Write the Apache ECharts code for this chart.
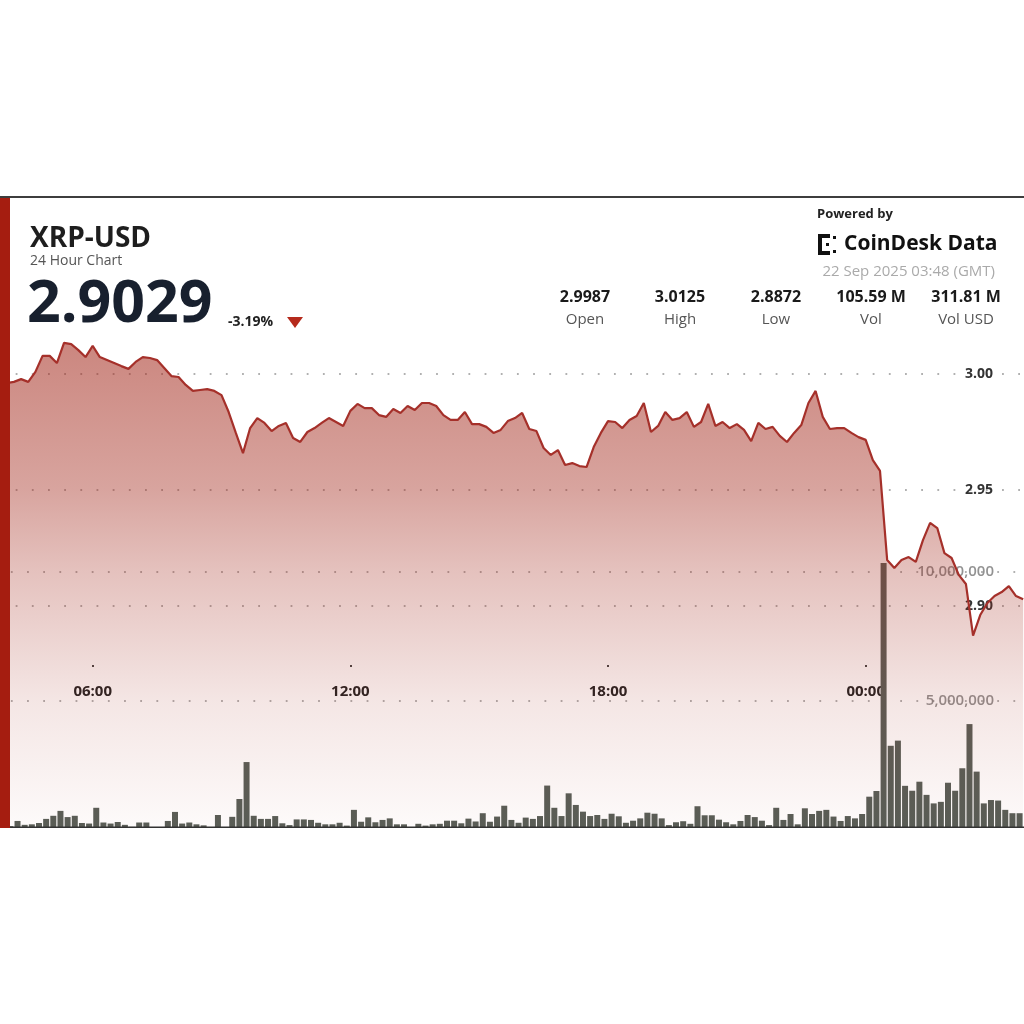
<!doctype html>
<html lang="en">
  <head>
    <meta charset="UTF-8" />
    <title>XRP-USD 24 Hour Chart</title>
    <script src="https://cdn.jsdelivr.net/npm/echarts@6/dist/echarts.min.js"></script>
    <style>
      body {
        margin: 0;
        padding: 0;
        background: #fff;
      }
      .main {
        width: 1024px;
        height: 1024px;
      }
    </style>
  </head>
  <body>
    <div class="main"></div>
    <script>
      // 10 minute buckets, starting 21 Sep 2025 04:00 GMT
      const startTime = Date.UTC(2025, 8, 21, 4, 0);
      const step = 10 * 60 * 1000;

      // price at each bucket (04:00 ... 03:40)
      const prices = [
        2.9961, 2.9966, 2.9978, 2.9966, 3.0009, 3.0078, 3.0078, 3.0047, 3.0134, 3.0129,
        3.0103, 3.0073, 3.0121, 3.0073, 3.006, 3.0047, 3.0034, 3.0022, 3.0052, 3.0073,
        3.0069, 3.006, 3.0026, 2.9991, 2.9987, 2.9953, 2.9927, 2.9931, 2.9935, 2.9927,
        2.9909, 2.9836, 2.9746, 2.9659, 2.9767, 2.981, 2.9789, 2.9754, 2.9776, 2.9789,
        2.9724, 2.9707, 2.975, 2.9767, 2.9789, 2.981, 2.9793, 2.9776, 2.9841, 2.9871,
        2.9853, 2.9853, 2.9823, 2.9815, 2.9849, 2.9832, 2.9862, 2.9845, 2.9875, 2.9875,
        2.9862, 2.9823, 2.9802, 2.9802, 2.9836, 2.9784, 2.9784, 2.9772, 2.9746, 2.9759,
        2.9797, 2.981, 2.9832, 2.9763, 2.9754, 2.9681, 2.9651, 2.9672, 2.9608, 2.9616,
        2.9603, 2.9599, 2.9685, 2.9746, 2.9797, 2.9793, 2.9767, 2.9802, 2.9819, 2.9875,
        2.975, 2.9776, 2.9836, 2.9802, 2.981, 2.9836, 2.9772, 2.9793, 2.9871, 2.9776,
        2.9793, 2.9767, 2.9784, 2.9759, 2.9711, 2.9789, 2.9763, 2.9772, 2.9733, 2.9707,
        2.9746, 2.978, 2.9875, 2.9927, 2.9815, 2.9763, 2.9767, 2.9767, 2.9746, 2.9728,
        2.9716, 2.9629, 2.9582, 2.9198, 2.9164, 2.9198, 2.9211, 2.919, 2.9284, 2.9358,
        2.9336, 2.9228, 2.9207, 2.9134, 2.9095, 2.8872, 2.8961, 2.9013, 2.9043, 2.906,
        2.9086, 2.9043, 2.9029,
      ];

      // volume per bucket, millions XRP
      const volumes = [
        0.15, 0.35, 0.2, 0.22, 0.27, 0.43, 0.55, 0.74, 0.5, 0.55,
        0.27, 0.25, 0.86, 0.29, 0.25, 0.31, 0.2, 0.12, 0.29, 0.29,
        0.05, 0.05, 0.35, 0.7, 0.25, 0.29, 0.22, 0.18, 0.05, 0.58,
        0.05, 0.51, 1.2, 2.63, 0.55, 0.43, 0.43, 0.54, 0.26, 0.19,
        0.41, 0.41, 0.39, 0.28, 0.22, 0.22, 0.28, 0.17, 0.78, 0.32,
        0.49, 0.3, 0.39, 0.45, 0.22, 0.22, 0.05, 0.24, 0.17, 0.22,
        0.24, 0.36, 0.36, 0.26, 0.44, 0.33, 0.65, 0.32, 0.52, 0.94,
        0.39, 0.28, 0.48, 0.43, 0.54, 1.72, 0.86, 0.54, 1.42, 0.97,
        0.71, 0.54, 0.58, 0.43, 0.63, 0.53, 0.28, 0.36, 0.45, 0.67,
        0.63, 0.45, 0.19, 0.3, 0.34, 0.24, 0.92, 0.57, 0.57, 0.4,
        0.3, 0.22, 0.35, 0.58, 0.5, 0.36, 0.19, 0.86, 0.39, 0.62,
        0.22, 0.84, 0.62, 0.74, 0.78, 0.52, 0.35, 0.54, 0.45, 0.62,
        1.29, 1.51, 10.34, 3.26, 3.46, 1.71, 1.52, 1.87, 1.36, 1.03,
        1.09, 1.83, 1.52, 2.39, 4.1, 2.26, 1.03, 1.16, 1.14, 0.78,
        0.65, 0.65,
      ];

      const timeTicks = [
        Date.UTC(2025, 8, 21, 6, 0),
        Date.UTC(2025, 8, 21, 12, 0),
        Date.UTC(2025, 8, 21, 18, 0),
        Date.UTC(2025, 8, 22, 0, 0),
      ];
      const priceTicks = [2.9, 3.0];
      const volumeTicks = [0, 12000000];

      const statValues = ["2.9987", "3.0125", "2.8872", "105.59 M", "311.81 M"];
      const statLabels = ["Open", "High", "Low", "Vol", "Vol USD"];
      const statX = [585, 680, 776, 871, 966];

      const pair = "XRP-USD";
      const lastPrice = "2.9029";
      const change = "-3.19%";
      const stamp = "22 Sep 2025 03:48 (GMT)";

      const font = "'Open Sans', 'Noto Sans', sans-serif";
      const tMin = startTime + 4.5 * 60 * 1000;
      const tMax = Date.UTC(2025, 8, 22, 3, 41, 10);

      const pad = (n) => String(n).padStart(2, "0");
      const fmtTime = (v) => {
        const d = new Date(v);
        return pad(d.getUTCHours()) + ":" + pad(d.getUTCMinutes());
      };

      const priceData = prices.map((p, i) => [startTime + i * step, p]);
      const volumeData = volumes.map((v, i) => [startTime + i * step + step / 2, v * 1e6]);

      const dotted = (offset) => ({
        color: "#b0b0b0",
        width: 1.8,
        type: [1.8, 14.37],
        dashOffset: offset,
      });

      // header texts
      const header = [
        { type: "text", style: { x: 30, y: 239, text: pair, fontSize: 28, fontWeight: "bold", fontFamily: font, fill: "#1e1e1e", textVerticalAlign: "middle" } },
        { type: "text", style: { x: 30, y: 261, text: "24 Hour Chart", fontSize: 14, fontFamily: font, fill: "#555", textVerticalAlign: "middle" } },
        { type: "text", style: { x: 27, y: 305, text: lastPrice, fontSize: 59, fontWeight: "bold", fontFamily: font, fill: "#18202e", textVerticalAlign: "middle" } },
        { type: "text", style: { x: 228, y: 322, text: change, fontSize: 14, fontWeight: "bold", fontFamily: font, fill: "#222", textVerticalAlign: "middle" } },
        { type: "polygon", shape: { points: [[287, 317], [303, 317], [295, 328]] }, style: { fill: "#b52a1c" } },
        { type: "text", style: { x: 817, y: 214, text: "Powered by", fontSize: 13, fontWeight: "bold", fontFamily: font, fill: "#222", textVerticalAlign: "middle" } },
        { type: "text", style: { x: 844, y: 244, text: "CoinDesk Data", fontSize: 21, fontWeight: "bold", fontFamily: font, fill: "#111", textVerticalAlign: "middle" } },
        { type: "text", style: { x: 995, y: 272, text: stamp, fontSize: 15, fontFamily: font, fill: "#aaa", textAlign: "right", textVerticalAlign: "middle" } },
        // logo mark
        { type: "rect", shape: { x: 818, y: 234, width: 4, height: 21 }, style: { fill: "#111" } },
        { type: "rect", shape: { x: 818, y: 234, width: 12, height: 4 }, style: { fill: "#111" } },
        { type: "rect", shape: { x: 818, y: 251, width: 12, height: 4 }, style: { fill: "#111" } },
        { type: "rect", shape: { x: 833, y: 236, width: 3, height: 3 }, style: { fill: "#111" } },
        { type: "rect", shape: { x: 833, y: 250, width: 3, height: 3 }, style: { fill: "#111" } },
        { type: "rect", shape: { x: 826, y: 243, width: 3, height: 3 }, style: { fill: "#111" } },
        // frame
        { type: "rect", shape: { x: 0, y: 196, width: 1024, height: 2 }, style: { fill: "#3d3d3d" } },
        { type: "rect", z: 100, shape: { x: 0, y: 828, width: 1024, height: 196 }, style: { fill: "#fff" } },
        { type: "rect", z: 100, shape: { x: 10, y: 826.5, width: 1014, height: 1.5 }, style: { fill: "#333" } },
        { type: "rect", z: 100, shape: { x: 0, y: 198, width: 10, height: 630 }, style: { fill: "#a51d10" } },
      ];

      statValues.forEach((v, i) => {
        header.push({ type: "text", style: { x: statX[i], y: 297, text: v, fontSize: 16, fontWeight: "bold", fontFamily: font, fill: "#1a1a1a", textAlign: "center", textVerticalAlign: "middle" } });
        header.push({ type: "text", style: { x: statX[i], y: 320, text: statLabels[i], fontSize: 15, fontFamily: font, fill: "#555", textAlign: "center", textVerticalAlign: "middle" } });
      });

      const myChart = echarts.init(document.querySelector(".main"));

      const option = {
        animation: false,
        backgroundColor: "#fff",
        graphic: header,
        grid: [
          { left: 10, right: 0, top: 198, bottom: 196 }, // price
          { left: 10, right: 0, top: 520, bottom: 194 }, // volume
          { left: 10, right: 0, top: 374, bottom: 418 }, // price ticks 3.00 .. 2.90
          { left: 10, right: 0, top: 600, bottom: 359 }, // time labels
        ],
        xAxis: [
          { type: "value", gridIndex: 0, min: tMin, max: tMax, show: false },
          { type: "value", gridIndex: 1, min: tMin, max: tMax, show: false },
          { type: "value", gridIndex: 2, show: false },
          {
            type: "value",
            gridIndex: 3,
            min: tMin,
            max: tMax,
            axisLine: { show: false },
            splitLine: { show: false },
            axisTick: { show: true, customValues: timeTicks, length: 2, lineStyle: { color: "#444", width: 2 } },
            axisLabel: {
              customValues: timeTicks,
              formatter: fmtTime,
              margin: 19,
              fontSize: 15,
              fontWeight: "bold",
              fontFamily: font,
              color: "#222",
            },
          },
        ],
        yAxis: [
          { type: "value", gridIndex: 0, min: 2.80431, max: 3.07586, show: false },
          {
            type: "value",
            gridIndex: 1,
            min: volumeTicks[0],
            max: volumeTicks[1],
            interval: 5000000,
            position: "right",
            axisLine: { show: false },
            axisTick: { show: false },
            axisLabel: {
              inside: true,
              margin: 30,
              showMinLabel: false,
              showMaxLabel: false,
              formatter: (v) => v.toLocaleString("en-US"),
              fontSize: 15,
              fontWeight: 600,
              fontFamily: font,
              color: "rgba(110,110,110,0.75)",
            },
            splitLine: { show: true, showMinLine: false, showMaxLine: false, lineStyle: dotted(15.3) },
          },
          {
            type: "value",
            gridIndex: 2,
            min: priceTicks[0],
            max: priceTicks[1],
            interval: 0.05,
            position: "right",
            axisLine: { show: false },
            axisTick: { show: false },
            axisLabel: {
              inside: true,
              margin: 31,
              formatter: (v) => v.toFixed(2),
              fontSize: 14,
              fontWeight: "bold",
              fontFamily: font,
              color: "#333",
            },
            splitLine: { show: true, lineStyle: dotted(10.5) },
          },
          { type: "value", gridIndex: 3, show: false },
        ],
        series: [
          {
            type: "bar",
            xAxisIndex: 1,
            yAxisIndex: 1,
            data: volumeData,
            barWidth: 6,
            itemStyle: { color: "#585e57" },
            z: 1,
          },
          {
            type: "line",
            xAxisIndex: 0,
            yAxisIndex: 0,
            data: priceData,
            showSymbol: false,
            lineStyle: { color: "#a5302a", width: 2.2 },
            areaStyle: {
              color: new echarts.graphic.LinearGradient(0, 0, 0, 1, [
                { offset: 0, color: "rgba(165,45,32,0.82)" },
                { offset: 0.3, color: "rgba(165,45,32,0.62)" },
                { offset: 0.47, color: "rgba(165,45,32,0.42)" },
                { offset: 0.74, color: "rgba(165,45,32,0.17)" },
                { offset: 1, color: "rgba(165,45,32,0.03)" },
              ]),
            },
            z: 3,
          },
        ],
      };

      myChart.setOption(option);
    </script>
  </body>
</html>
